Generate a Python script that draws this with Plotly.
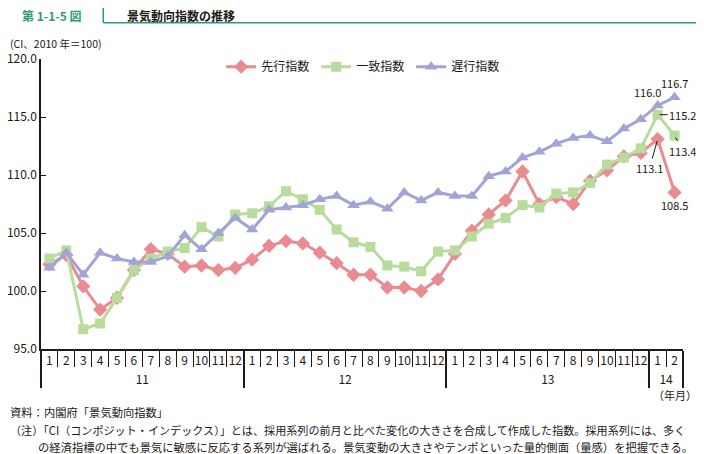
import plotly.graph_objects as go

# x categories: year (outer) / month (inner)
years = ["11"] * 12 + ["12"] * 12 + ["13"] * 12 + ["14"] * 2
months = ["1", "2", "3", "4", "5", "6", "7", "8", "9", "10", "11", "12"] * 3 + ["1", "2"]

# CI, 2010 = 100
leading = [102.3, 103.1, 100.4, 98.4, 99.4, 101.8, 103.6, 103.2, 102.1, 102.2, 101.8, 102.0,
           102.7, 103.9, 104.3, 104.1, 103.3, 102.4, 101.4, 101.4, 100.3, 100.3, 100.0, 101.0,
           103.2, 105.2, 106.6, 107.8, 110.3, 107.5, 108.1, 107.5, 109.5, 110.4, 111.6, 111.9,
           113.1, 108.5]
coincident = [102.8, 103.5, 96.7, 97.2, 99.4, 101.8, 102.8, 103.4, 103.7, 105.5, 104.7, 106.6,
              106.7, 107.3, 108.6, 107.9, 107.0, 105.3, 104.2, 103.8, 102.2, 102.1, 101.7, 103.4,
              103.5, 104.7, 105.8, 106.3, 107.4, 107.2, 108.4, 108.5, 109.3, 110.9, 111.5, 112.3,
              115.2, 113.4]
lagging = [102.0, 103.3, 101.4, 103.3, 102.8, 102.5, 102.5, 103.0, 104.8, 103.6, 105.0, 106.3,
           105.3, 107.0, 107.2, 107.4, 107.9, 108.2, 107.4, 107.7, 107.1, 108.5, 107.8, 108.5,
           108.2, 108.2, 109.9, 110.3, 111.5, 112.0, 112.7, 113.2, 113.4, 112.9, 114.0, 114.8,
           116.0, 116.7]

FONT = "Noto Sans CJK JP"
TXT = "#231815"
TEAL = "#2f9a80"

# page body has an 8px margin, so the figure is placed at (8, 8) in the window
OFF = 8
PLOT_L, PLOT_R, PLOT_T, PLOT_B = 40.7, 683.3, 59.3, 349.0  # plot area in window pixels
FIG_W, FIG_H = 704 - OFF, 454 - OFF


def px(x):
    return (x - PLOT_L) / (PLOT_R - PLOT_L)


def py(y):
    return (PLOT_B - y) / (PLOT_B - PLOT_T)


series = [
    ("先行指数", leading, "#e98b91", "diamond", 11),
    ("一致指数", coincident, "#b7dc9b", "square", 10),
    ("遅行指数", lagging, "#a2a4d6", "triangle-up", 11),
]

fig = go.Figure()
for name, vals, color, symbol, size in series:
    fig.add_scatter(
        x=[years, months],
        y=vals,
        name=name,
        mode="lines+markers",
        line={"color": color, "width": 3},
        marker={"symbol": symbol, "size": size, "color": color},
    )

n = len(months)
# value labels at the end of the series
labels = [
    # x index, y, text, ax, ay, arrow
    (n - 1, lagging[-1], "116.7", 0, -14, False),
    (n - 2, lagging[-2], "116.0", -10, -13, False),
    (n - 2, coincident[-2], "115.2", 25, 0, True),
    (n - 1, coincident[-1], "113.4", 8, 15, True),
    (n - 2, leading[-2], "113.1", -8, 29, True),
    (n - 1, leading[-1], "108.5", 0, 13, False),
]
for xi, yv, text, ax, ay, arrow in labels:
    if arrow:
        fig.add_annotation(x=xi, y=yv, text=text, showarrow=True, arrowhead=0, arrowwidth=1,
                           arrowcolor=TXT, ax=ax, ay=ay, standoff=2,
                           font={"size": 11, "color": TXT})
    else:
        fig.add_annotation(x=xi, y=yv, text=text, showarrow=False, xshift=ax, yshift=-ay,
                           font={"size": 11, "color": TXT})

# header
fig.add_annotation(x=px(20), y=py(15.5), xref="paper", yref="paper", xanchor="left", yanchor="middle",
                   text="<b>第 1-1-5 図</b>", showarrow=False, font={"size": 12, "color": TEAL})
fig.add_annotation(x=px(125), y=py(15.5), xref="paper", yref="paper", xanchor="left", yanchor="middle",
                   text="<b>景気動向指数の推移</b>", showarrow=False, font={"size": 12, "color": TXT})
fig.add_shape(type="line", xref="paper", yref="paper", x0=px(103), x1=px(103), y0=py(0), y1=py(23),
              line={"color": TEAL, "width": 1.5})
fig.add_shape(type="line", xref="paper", yref="paper", x0=px(103), x1=px(704), y0=py(23), y1=py(23),
              line={"color": TEAL, "width": 1.5})

# unit and notes
fig.add_annotation(x=px(8), y=py(44), xref="paper", yref="paper", xanchor="left", yanchor="middle",
                   text="(CI、2010 年＝100)", showarrow=False, font={"size": 10.5, "color": TXT})
fig.add_annotation(x=px(699), y=py(395), xref="paper", yref="paper", xanchor="right", yanchor="middle",
                   text="（年月）", showarrow=False, font={"size": 11, "color": TXT})
notes = [
    (8, 412, "資料：内閣府「景気動向指数」", 11.3),
    (8, 430, "（注）「CI（コンポジット・インデックス）」とは、採用系列の前月と比べた変化の大きさを合成して作成した指数。採用系列には、多く", 11.1),
    (36, 447, "の経済指標の中でも景気に敏感に反応する系列が選ばれる。景気変動の大きさやテンポといった量的側面（量感）を把握できる。", 11.3),
]
for x, y, text, size in notes:
    fig.add_annotation(x=px(x), y=py(y), xref="paper", yref="paper", xanchor="left", yanchor="middle",
                       text=text, showarrow=False, font={"size": size, "color": TXT})

fig.update_layout(
    template="none",
    width=FIG_W,
    height=FIG_H,
    margin={
        "l": PLOT_L - OFF,
        "r": FIG_W - (PLOT_R - OFF),
        "t": PLOT_T - OFF,
        "b": FIG_H - (PLOT_B - OFF),
        "autoexpand": False,
    },
    paper_bgcolor="white",
    plot_bgcolor="white",
    font={"family": FONT, "size": 12, "color": TXT},
    showlegend=True,
    legend={
        "orientation": "h",
        "x": px(221),
        "y": py(67),
        "xanchor": "left",
        "yanchor": "middle",
        "font": {"size": 12, "color": TXT},
        "entrywidth": 50,
        "bgcolor": "rgba(0,0,0,0)",
    },
    xaxis={
        "type": "multicategory",
        "range": [-0.5, n - 0.5],
        "automargin": False,
        "showline": True,
        "linecolor": TXT,
        "linewidth": 1.5,
        "ticks": "outside",
        "tickson": "boundaries",
        "ticklen": 16,
        "tickcolor": TXT,
        "showdividers": True,
        "dividercolor": TXT,
        "dividerwidth": 1.5,
        "showgrid": False,
        "tickfont": {"size": 12, "color": TXT},
        "tickangle": 0,
    },
    yaxis={
        "automargin": False,
        "range": [95, 120],
        "dtick": 5,
        "tickformat": ".1f",
        "showline": True,
        "linecolor": TXT,
        "linewidth": 1.5,
        "ticks": "inside",
        "ticklen": 5,
        "tickcolor": TXT,
        "showgrid": False,
        "zeroline": False,
        "tickfont": {"size": 12, "color": TXT},
    },
)

fig.write_html("out.html")
